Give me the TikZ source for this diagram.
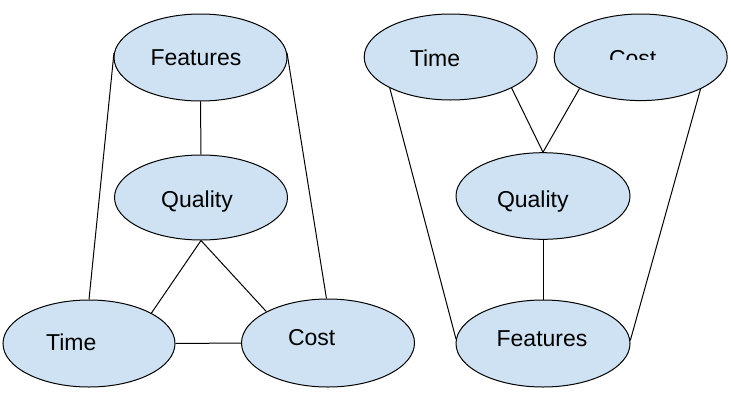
\documentclass[tikz,border=0pt]{standalone}
\usepackage{fontspec}
\setmainfont{Liberation Sans}
\usetikzlibrary{shapes.geometric}
\definecolor{fillblue}{HTML}{CFE2F3}
\tikzset{
  oval/.style={ellipse, draw=black, fill=fillblue, line width=1pt, inner sep=0pt,
    minimum width=173pt, minimum height=87pt},
  lbl/.style={anchor=base, inner sep=0pt, font=\fontsize{23}{25}\selectfont},
  link/.style={draw=black, line width=1pt}
}
\begin{document}
\begin{tikzpicture}[x=1pt, y=-1pt]
\useasboundingbox (0,0) rectangle (731,394);
% left diagram
\node[oval] (LF) at (200.5,57.5) {};
\node[oval, minimum height=85pt] (LQ) at (201,197.5) {};
\node[oval, minimum width=172pt] (LT) at (89,343.5) {};
\node[oval, minimum height=88pt] (LC) at (328,343) {};
\node[lbl] (tLF) at (196,65) {Features};
\node[lbl] (tLQ) at (197,207.3) {Quality};
\node[lbl] (tLT) at (71.3,350.7) {Time};
\node[lbl] (tLC) at (311.7,345) {Cost};
\draw[link] (LF.177) -- (LT.north);
\draw[link] (LF.3) -- (LC.92);
\draw[link] (LF.south) -- (LQ.north);
\draw[link] (LQ.south) -- (LT.26.5);
\draw[link] (LQ.south) -- (LC.153.7);
\draw[link] (LT.east) -- (LC.west);
% right diagram
\node[oval, minimum height=86pt] (RT) at (450.7,57) {};
\node[oval, minimum height=86.6pt] (RC) at (640.7,57.3) {};
\node[oval, minimum width=174pt, minimum height=86.6pt] (RQ) at (543,196) {};
\node[oval, minimum width=174pt] (RF) at (543,343.5) {};
\node[lbl] (tRT) at (435,66) {Time};
\begin{scope}
\clip (560,0) rectangle (710,59.5);
\node[lbl] (tRC) at (632.7,66) {Cost};
\end{scope}
\node[lbl] (tRQ) at (532.8,207.7) {Quality};
\node[lbl] (tRF) at (542,346.7) {Features};
\draw[link] (RT.207.5) -- (RF.177.7);
\draw[link] (RT.333.6) -- (RQ.north);
\draw[link] (RC.207.8) -- (RQ.north);
\draw[link] (RC.332.5) -- (RF.2.3);
\draw[link] (RQ.south) -- (RF.north);
\end{tikzpicture}
\end{document}
